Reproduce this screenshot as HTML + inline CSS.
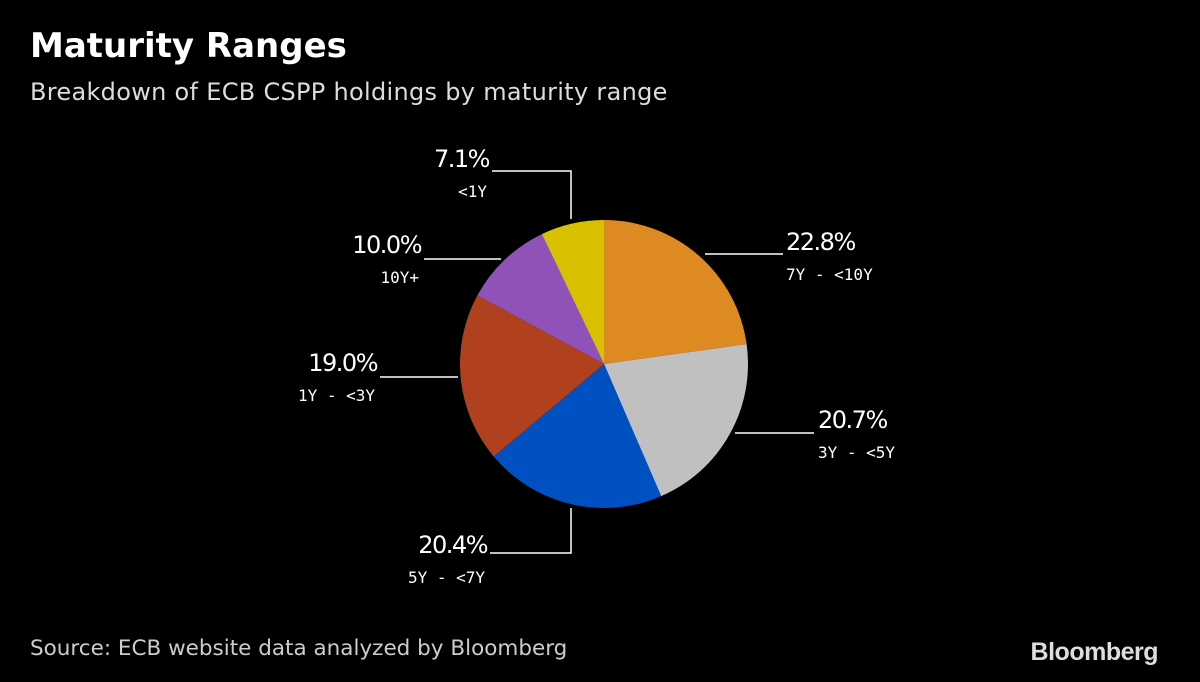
<!DOCTYPE html>
<html><head><meta charset="utf-8"><style>
body{margin:0;background:#000;width:1200px;height:682px;overflow:hidden;font-family:"Liberation Sans","DejaVu Sans",sans-serif;color:#fff}
.t{position:absolute;left:30px;top:26px;font-size:34px;font-weight:bold;font-family:"DejaVu Sans",sans-serif}
.s{position:absolute;left:30px;top:78px;font-size:24px;color:#ddd;font-family:"DejaVu Sans",sans-serif;letter-spacing:0.3px}
.src{position:absolute;left:30px;top:636px;font-size:21.5px;color:#ccc;font-family:"DejaVu Sans",sans-serif}
.logo{position:absolute;right:42px;top:638px;font-size:25px;font-weight:bold;color:#ddd;letter-spacing:-0.5px}
svg{position:absolute;left:0;top:0}
</style></head><body>
<div class="t">Maturity Ranges</div>
<div class="s">Breakdown of ECB CSPP holdings by maturity range</div>
<svg id="c" width="1200" height="682"></svg>
<div class="src">Source: ECB website data analyzed by Bloomberg</div>
<div class="logo">Bloomberg</div>
<script>
const categories=["7Y - <10Y","3Y - <5Y","5Y - <7Y","1Y - <3Y","10Y+","<1Y"];
const values=[22.8,20.7,20.4,19.0,10.0,7.1];
const valueLabels=["22.8%","20.7%","20.4%","19.0%","10.0%","7.1%"];
const colors=["#de8a22","#c0c0c0","#0050c2","#b0401e","#9052b8","#d9c000"];
const layout=[
 {pts:[[705,254],[783,254]],tx:786,ty:240,anc:"start"},
 {pts:[[735,433],[814,433]],tx:818,ty:418,anc:"start"},
 {pts:[[571,508],[571,553],[490,553]],tx:487,ty:543,anc:"end"},
 {pts:[[458,377],[380,377]],tx:377,ty:361,anc:"end"},
 {pts:[[501,259],[424,259]],tx:421,ty:243,anc:"end"},
 {pts:[[571,219],[571,171],[492,171]],tx:489,ty:157,anc:"end"}
];
const svg=document.getElementById('c'),NS="http://www.w3.org/2000/svg";
const cx=604,cy=364,r=144;
const total=values.reduce((a,b)=>a+b,0);
let a0=0;
values.forEach((v,i)=>{
 const a1=a0+v/total*2*Math.PI;
 const x0=cx+r*Math.sin(a0),y0=cy-r*Math.cos(a0),x1=cx+r*Math.sin(a1),y1=cy-r*Math.cos(a1);
 const p=document.createElementNS(NS,'path');
 p.setAttribute('d',`M${cx},${cy}L${x0},${y0}A${r},${r} 0 ${a1-a0>Math.PI?1:0} 1 ${x1},${y1}Z`);
 p.setAttribute('fill',colors[i]);
 
 
 svg.appendChild(p);
 a0=a1;
 const L=layout[i];
 const pl=document.createElementNS(NS,'polyline');
 pl.setAttribute('points',L.pts.map(q=>q.join(',')).join(' '));
 pl.setAttribute('fill','none');pl.setAttribute('stroke','#fff');pl.setAttribute('stroke-width','1.5');
 
 
 svg.appendChild(pl);
 const t=document.createElementNS(NS,'text');
 t.setAttribute('x',L.tx);t.setAttribute('y',L.ty+10);t.setAttribute('text-anchor',L.anc);
 t.setAttribute('fill','#fff');t.setAttribute('font-size','24');t.setAttribute('letter-spacing','-1.5');t.setAttribute('font-family','"DejaVu Sans",sans-serif');
 t.textContent=valueLabels[i];
 
 
 svg.appendChild(t);
 const t2=document.createElementNS(NS,'text');
 t2.setAttribute('x',L.tx+(L.anc=="end"?-2:0));t2.setAttribute('y',L.ty+40);t2.setAttribute('text-anchor',L.anc);
 t2.setAttribute('fill','#fff');t2.setAttribute('font-size','16');t2.setAttribute('font-family','"DejaVu Sans Mono","Liberation Mono",monospace');
 t2.textContent=categories[i];
 
 
 svg.appendChild(t2);
});
</script>
</body></html>
